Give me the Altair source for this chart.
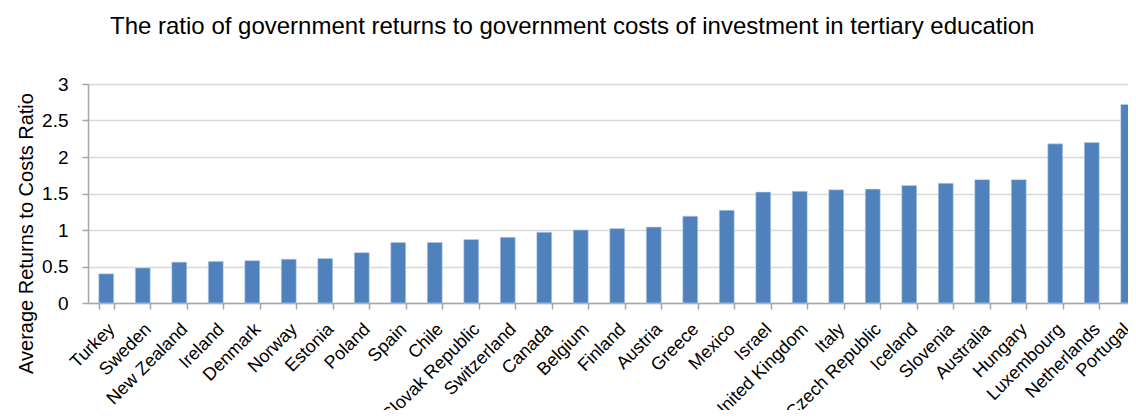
import altair as alt
import pandas as pd

countries = ["Turkey", "Sweden", "New Zealand", "Ireland", "Denmark", "Norway", "Estonia",
             "Poland", "Spain", "Chile", "Slovak Republic", "Switzerland", "Canada", "Belgium",
             "Finland", "Austria", "Greece", "Mexico", "Israel", "United Kingdom", "Italy",
             "Czech Republic", "Iceland", "Slovenia", "Australia", "Hungary", "Luxembourg",
             "Netherlands", "Portugal"]
ratios = [0.40, 0.48, 0.56, 0.57, 0.58, 0.60, 0.61, 0.69, 0.83, 0.83, 0.87, 0.90, 0.97, 1.00,
          1.02, 1.04, 1.19, 1.27, 1.52, 1.53, 1.55, 1.56, 1.61, 1.64, 1.69, 1.69, 2.18, 2.20, 2.72]
y_ticks = [0, 0.5, 1, 1.5, 2, 2.5, 3]
title_text = ["The ratio of government returns to government costs of investment in tertiary education"]

df = pd.DataFrame({"country": countries, "ratio": ratios})
tdf = pd.DataFrame({"t": title_text})

FONT = "Liberation Sans"

bars = alt.Chart(df).mark_bar(color="#4F81BD", stroke="#C5D3E8", strokeWidth=0.6).encode(
    x=alt.X("country:N", sort=countries, title=None,
            scale=alt.Scale(paddingInner=0.59, paddingOuter=0.295, range=[0, 1058.5]),
            axis=alt.Axis(labelAngle=-45, labelAlign="right", labelBaseline="top",
                          labelFontSize=18, labelColor="#000000", labelFont=FONT,
                          tickBand="extent", tickSize=6, tickColor="#A6A6A6", tickWidth=1.5,
                          domainColor="#A6A6A6", domainWidth=1.5, labelPadding=11,
                          labelOffset={"condition": {"test": "datum.value === 'Portugal'",
                                                     "value": -8},
                                       "value": -1},
                          grid=False, labelOverlap=False)),
    y=alt.Y("ratio:Q", title="Average Returns to Costs Ratio",
            scale=alt.Scale(domain=[0, 3], nice=False),
            axis=alt.Axis(values=y_ticks, format="~g",
                          labelFontSize=19, labelColor="#000000", labelFont=FONT,
                          labelPadding=14,
                          titleFontSize=20, titleFont=FONT, titleFontWeight="normal",
                          titleColor="#000000", titleX=-56, titleY=149,
                          titleAlign="center", titleBaseline="alphabetic", titleAngle=270,
                          tickSize=6, tickColor="#A6A6A6", tickWidth=1.5,
                          domainColor="#A6A6A6", domainWidth=1.5,
                          gridColor="#D9D9D9", gridWidth=1.5)),
)

title = alt.Chart(tdf).mark_text(font=FONT, fontSize=24, color="#000000", align="left",
                                 baseline="alphabetic").encode(
    text="t:N", x=alt.value(22), y=alt.value(-50))

chart = alt.layer(bars, title).properties(
    width=1040, height=219,
    autosize=alt.AutoSizeParams(type="none"),
    padding={"left": 80, "top": 76, "right": 0, "bottom": 107},
).configure_view(stroke=None)

chart.save("out.html", embed_options={"renderer": "svg", "actions": False})
